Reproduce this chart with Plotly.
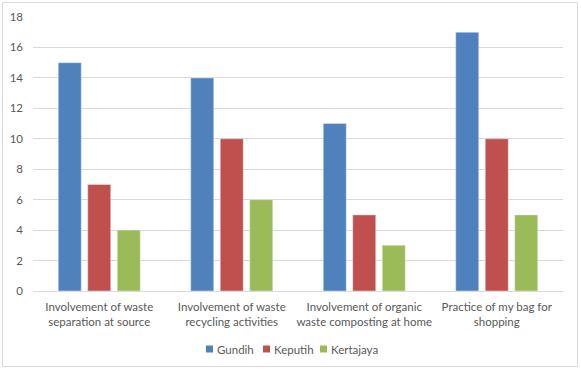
import plotly.graph_objects as go

categories = ["Involvement of waste<br>separation at source",
              "Involvement of waste<br>recycling activities",
              "Involvement of organic<br>waste composting at home",
              "Practice of my bag for<br>shopping"]
series_names = ["Gundih", "Keputih", "Kertajaya"]
gundih = [15, 14, 11, 17]
keputih = [7, 10, 5, 10]
kertajaya = [4, 6, 3, 5]
y_ticks = [0, 2, 4, 6, 8, 10, 12, 14, 16, 18]
colors = ["#4F81BD", "#C0504D", "#9BBB59"]

font_family = "Lato, Open Sans, sans-serif"
txt = "#595959"

fig = go.Figure()
for name, vals, col in zip(series_names, [gundih, keputih, kertajaya], colors):
    fig.add_trace(go.Bar(name=name, x=categories, y=vals, marker_color=col, showlegend=False))

L, R, T, B = 33, 18, 17, 78
W, H = 581, 369
pw, ph = W - L - R, H - T - B

def px_x(x):
    return (x - L) / pw

def px_y(y):
    return (T + ph - y) / ph

shapes = [dict(type="rect", xref="paper", yref="paper",
               x0=px_x(2.5), x1=px_x(577.5), y0=px_y(366.5), y1=px_y(2.5),
               line=dict(color="#D9D9D9", width=1), layer="below")]
annotations = []
legend_sq_x = [206, 263, 320]
for name, col, sx in zip(series_names, colors, legend_sq_x):
    shapes.append(dict(type="rect", xref="paper", yref="paper",
                       x0=px_x(sx), x1=px_x(sx + 7), y0=px_y(352.5), y1=px_y(345.5),
                       fillcolor=col, line=dict(width=0)))
    annotations.append(dict(xref="paper", yref="paper", x=px_x(sx + 9), y=px_y(349),
                            xanchor="left", yanchor="middle", showarrow=False,
                            text=name, font=dict(size=11.5, color=txt)))

fig.update_layout(
    width=W, height=H,
    margin=dict(l=L, r=R, t=T, b=B, autoexpand=False),
    paper_bgcolor="white", plot_bgcolor="white",
    barmode="group", bargap=0.332, bargroupgap=0.22,
    font=dict(family=font_family, size=11.5, color=txt),
    showlegend=False,
    xaxis=dict(showgrid=False, showline=True, linecolor="#D9D9D9", linewidth=1,
               tickfont=dict(size=11.5, color=txt), ticks="", automargin=False,
               ticklabelstandoff=5),
    yaxis=dict(range=[0, 18], tickvals=y_ticks, showgrid=True, gridcolor="#D9D9D9",
               gridwidth=1, zeroline=False, showline=False, ticks="",
               ticklabelstandoff=9, automargin=False,
               tickfont=dict(size=11.5, color=txt)),
    shapes=shapes,
    annotations=annotations,
)
fig.write_html("out.html", config={"displayModeBar": False},
               post_script="document.body.style.margin='0';")
